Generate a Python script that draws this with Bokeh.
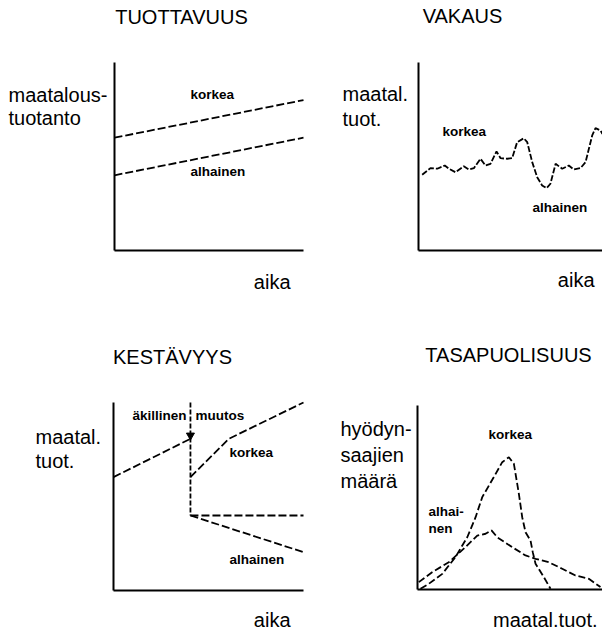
from bokeh.plotting import figure
from bokeh.layouts import column, row
from bokeh.models import Label, LinearAxis
from bokeh.embed import file_html
from bokeh.resources import INLINE

# ---------------- data (arbitrary units 0..100) ----------------
# TUOTTAVUUS
t1 = [0, 100]
korkea1 = [60, 80]
alhainen1 = [40, 60]

# VAKAUS
t2 = [2.0, 6.5, 10.2, 14.3, 16.5, 20.1, 24.6, 27.3, 30.1, 33.7, 36.4, 39.1, 42.4,
      44.6, 48.2, 50.9, 53.6, 57.2, 59.1, 61.8, 64.5, 67.2, 69.6, 71.7, 74.5, 78.1,
      81.7, 84.4, 88.0, 90.8, 92.6, 94.4, 96.2, 98.9, 100.0]
v2 = [40.3, 43.8, 43.5, 45.2, 43.5, 41.6, 44.8, 43.1, 43.8, 48.8, 45.2, 46.1, 52.7,
      49.1, 48.8, 49.1, 57.6, 59.7, 57.6, 47.0, 39.0, 34.6, 33.1, 35.5, 46.1, 43.5,
      45.2, 43.1, 43.8, 47.0, 54.1, 61.2, 65.1, 63.8, 62.0]

# KESTÄVYYS
t3_before = [0, 40.5]
y3_before = [60.3, 80.7]
shock_x = [40.5, 40.5]
shock_y = [100, 39.9]
arrow_x = [40.5]
arrow_y = [82.5]
t3_korkea = [40.5, 60.7, 100]
y3_korkea = [60.3, 80.7, 100]
t3_taso = [40.5, 100]
y3_taso = [39.9, 39.9]
t3_alhainen = [40.5, 100]
y3_alhainen = [39.9, 20.4]

# TASAPUOLISUUS
x4_korkea = [1.6, 6.1, 13.4, 20.5, 26.9, 31.4, 35.0, 41.2, 45.8, 49.4, 52.1, 54.8,
             56.6, 58.4, 61.1, 62.3, 63.8, 68.3, 71.9]
y4_korkea = [0.4, 3.1, 8.5, 17.6, 28.4, 39.3, 50.2, 61.0, 69.2, 71.9, 68.3, 52.0,
             39.3, 31.1, 26.6, 20.3, 14.0, 6.7, 0.4]
x4_alhainen = [0.7, 7.9, 16.9, 25.9, 32.3, 36.8, 40.0, 43.1, 51.2, 58.4, 63.8, 71.0,
               78.2, 85.4, 92.6, 98.9]
y4_alhainen = [4.0, 9.4, 14.8, 23.0, 29.3, 30.3, 32.1, 28.4, 23.0, 18.5, 16.7, 14.8,
               11.3, 7.6, 5.8, 1.3]

FONT = "Liberation Sans"
BIG = 20
SMALL = 13.5


def make_fig(cx, cy, w, h, frame):
    """cx, cy: canvas origin on page; frame: (L, R, T, B) page pixels of the 0..100 box."""
    L, R, T, B = frame
    sx = (R - L) / 100.0
    sy = (B - T) / 100.0
    x0 = (cx - L) / sx
    x1 = (cx + w - L) / sx
    y1 = (B - cy) / sy
    y0 = (B - (cy + h)) / sy
    p = figure(width=w, height=h, x_range=(x0, x1), y_range=(y0, y1),
               output_backend="svg", toolbar_location=None,
               x_axis_type=None, y_axis_type=None,
               min_border=0, min_border_left=0, min_border_right=0,
               min_border_top=0, min_border_bottom=0)
    p.grid.visible = False
    p.outline_line_color = None
    for side in ("below", "left"):
        ax = LinearAxis(fixed_location=0, bounds=(0, 100), ticker=[],
                        major_tick_line_color=None, minor_tick_line_color=None,
                        major_label_text_font_size="0px",
                        axis_line_width=2, axis_line_color="black")
        p.add_layout(ax, side)
    return p


def lab(p, frame, px, py, text, size, align="left", bold=False):
    L, R, T, B = frame
    py = py - 0.42 * size
    x = (px - L) / (R - L) * 100
    y = (B - py) / (B - T) * 100
    p.add_layout(Label(x=x, y=y, text=text, text_font=FONT,
                       text_font_size=f"{size}px",
                       text_font_style="bold" if bold else "normal",
                       text_align=align, text_baseline="alphabetic",
                       text_color="black"))


DASH_STYLE = dict(line_color="black", line_width=1.8)

# ---------------- panel 1 ----------------
fr1 = (114, 303, 62, 250)
f1 = make_fig(0, 0, 310, 325, fr1)
f1.line(t1, korkea1, line_dash="8 3", **DASH_STYLE)
f1.line(t1, alhainen1, line_dash="8 3", **DASH_STYLE)
lab(f1, fr1, 181, 25, "TUOTTAVUUS", BIG, "center")
lab(f1, fr1, 8, 103, "maatalous-", BIG)
lab(f1, fr1, 8, 126, "tuotanto", BIG)
lab(f1, fr1, 190, 100, "korkea", SMALL, bold=True)
lab(f1, fr1, 190, 177, "alhainen", SMALL, bold=True)
lab(f1, fr1, 290, 290, "aika", BIG, "right")

# ---------------- panel 2 ----------------
fr2 = (418, 602, 62, 250)
f2 = make_fig(310, 0, 292, 325, fr2)
f2.line(t2, v2, line_dash="6 2", **DASH_STYLE)
lab(f2, fr2, 462, 24, "VAKAUS", BIG, "center")
lab(f2, fr2, 342, 102, "maatal.", BIG)
lab(f2, fr2, 342, 127, "tuot.", BIG)
lab(f2, fr2, 442, 137, "korkea", SMALL, bold=True)
lab(f2, fr2, 532, 213, "alhainen", SMALL, bold=True)
lab(f2, fr2, 594, 288, "aika", BIG, "right")

# ---------------- panel 3 ----------------
fr3 = (113, 303, 402, 590)
f3 = make_fig(0, 325, 310, 309, fr3)
f3.line(t3_before, y3_before, line_dash="8 3", **DASH_STYLE)
f3.line(shock_x, shock_y, line_dash="5 2", **DASH_STYLE)
f3.scatter(arrow_x, arrow_y, marker="inverted_triangle", size=8,
           fill_color="black", line_color="black")
f3.line(t3_korkea, y3_korkea, line_dash="8 3", **DASH_STYLE)
f3.line(t3_taso, y3_taso, line_dash="8 3", **DASH_STYLE)
f3.line(t3_alhainen, y3_alhainen, line_dash="8 3", **DASH_STYLE)
lab(f3, fr3, 172, 365, "KESTÄVYYS", BIG, "center")
lab(f3, fr3, 35, 445, "maatal.", BIG)
lab(f3, fr3, 35, 469, "tuot.", BIG)
lab(f3, fr3, 186, 421, "äkillinen", SMALL, "right", bold=True)
lab(f3, fr3, 195, 421, "muutos", SMALL, bold=True)
lab(f3, fr3, 229, 458, "korkea", SMALL, bold=True)
lab(f3, fr3, 229, 565, "alhainen", SMALL, bold=True)
lab(f3, fr3, 290, 628, "aika", BIG, "right")

# ---------------- panel 4 ----------------
fr4 = (417, 602, 405, 589)
f4 = make_fig(310, 325, 292, 309, fr4)
f4.line(x4_korkea, y4_korkea, line_dash="7 3", **DASH_STYLE)
f4.line(x4_alhainen, y4_alhainen, line_dash="7 3", **DASH_STYLE)
lab(f4, fr4, 508, 363, "TASAPUOLISUUS", BIG, "center")
lab(f4, fr4, 340, 437, "hyödyn-", BIG)
lab(f4, fr4, 340, 463, "saajien", BIG)
lab(f4, fr4, 340, 489, "määrä", BIG)
lab(f4, fr4, 488, 440, "korkea", SMALL, bold=True)
lab(f4, fr4, 428, 517, "alhai-", SMALL, bold=True)
lab(f4, fr4, 428, 534, "nen", SMALL, bold=True)
lab(f4, fr4, 597, 628, "maatal.tuot.", BIG, "right")

layout = column(row(f1, f2), row(f3, f4))
open("out.html", "w").write(file_html(layout, INLINE))
